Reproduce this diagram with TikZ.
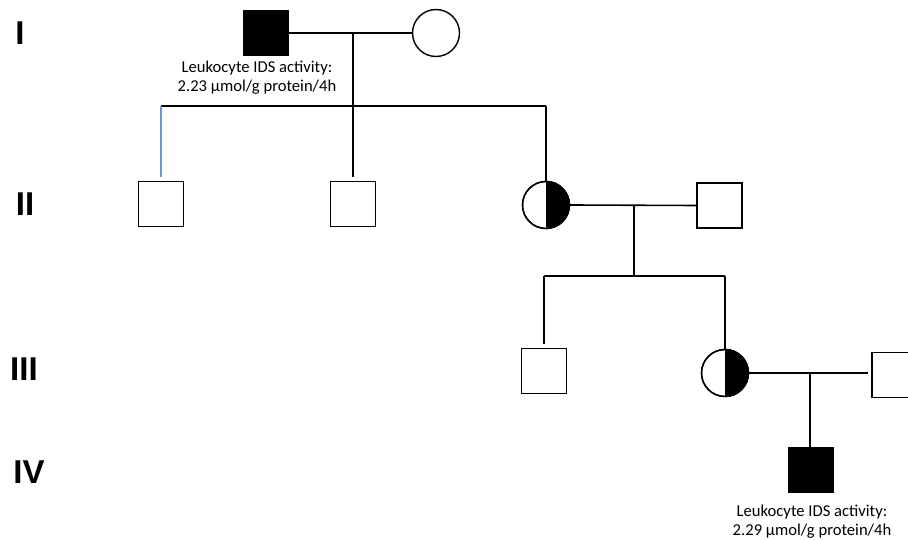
\documentclass[tikz,border=0pt]{standalone}
\usepackage{fontspec}
\setmainfont{Carlito}
\newfontfamily\genfont{Liberation Sans}
\definecolor{linkblue}{RGB}{110,150,210}
\begin{document}
\begin{tikzpicture}[x=1pt,y=-1pt,
  male/.style={draw,rectangle,minimum size=45pt,inner sep=0pt,line width=1.4pt,fill=white},
  affm/.style={male,fill=black},
  female/.style={draw,circle,minimum size=47pt,inner sep=0pt,line width=1.4pt},
  ln/.style={line width=1.6pt},
  gen/.style={font=\genfont\bfseries\fontsize{33}{35}\selectfont,inner sep=0pt},
  lbl/.style={font=\fontsize{16.6}{19}\selectfont,align=center,inner sep=0pt}]
\useasboundingbox (0,0) rectangle (908,540);
\clip (0,0) rectangle (908,540);
% generation labels
\node[gen] (gI) at (20,33) {I};
\node[gen] (gII) at (25,204) {II};
\node[gen] (gIII) at (24,369) {III};
\node[gen] (gIV) at (29,472) {IV};
% generation I
\node[affm] (i1) at (266,33) {};
\node[female] (i2) at (436,33) {};
\node[lbl] (t1) at (257,78) {Leukocyte IDS activity:\\2.23 µmol/g protein/4h};
\coordinate (m1) at (353,33);
\coordinate (s1) at (353,106);
\draw[ln] (i1.east) -- (i2.west);
\draw[ln] (m1) -- (s1);
% generation II
\node[male] (ii1) at (161,204) {};
\node[male] (ii2) at (353,204) {};
\node[female] (ii3) at (546,205) {};
\fill (ii3.north) arc[start angle=90,end angle=-90,radius=23.5pt] -- cycle;
\draw[line width=1.4pt] (ii3.center) circle[radius=23.5pt];
\node[male] (ii4) at (719.5,205.5) {};
\coordinate (a1) at (161,106);
\coordinate (a3) at (546,106);
\draw[ln] (a1) -- (a3);
\draw[ln,color=linkblue] (a1) -- ([yshift=4pt]ii1.north);
\draw[ln] (s1) -- ([yshift=4pt]ii2.north);
\draw[ln] (a3) -- (ii3.north);
\draw[ln] (ii3.east) -- (ii4.west);
\coordinate (m2) at (634,205);
\coordinate (s2) at (634,276);
\draw[ln] (m2) -- (s2);
% generation III
\node[male] (iii1) at (544,371) {};
\node[female] (iii2) at (725,373) {};
\fill (iii2.north) arc[start angle=90,end angle=-90,radius=23.5pt] -- cycle;
\draw[line width=1.4pt] (iii2.center) circle[radius=23.5pt];
\node[male] (iii3) at (894.5,375) {};
\coordinate (b1) at (544,276);
\coordinate (b2) at (725,276);
\draw[ln] (b1) -- (b2);
\draw[ln] (b1) -- ([yshift=4pt]iii1.north);
\draw[ln] (b2) -- (iii2.north);
\draw[ln] (iii2.east) -- ([xshift=-3pt]iii3.west |- iii2.east);
\coordinate (m3) at (810,373);
% generation IV
\node[affm] (iv1) at (811,470) {};
\draw[ln] (m3) -- (m3 |- iv1.north);
\node[lbl] (t2) at (812,522) {Leukocyte IDS activity:\\2.29 µmol/g protein/4h};
\end{tikzpicture}
\end{document}
